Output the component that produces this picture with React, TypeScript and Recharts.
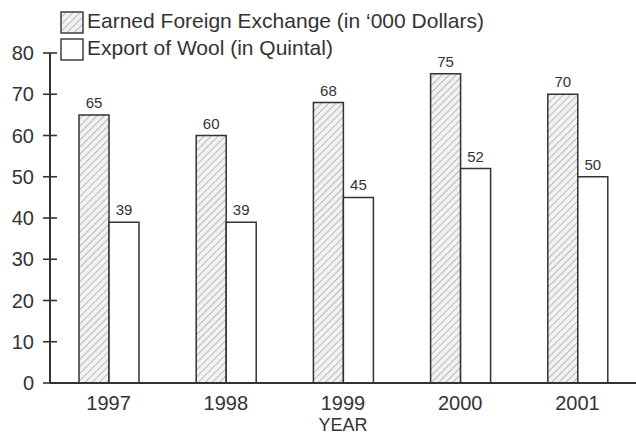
import React from 'react';
import { BarChart, Bar, XAxis, YAxis, LabelList } from 'recharts';

const years = ['1997', '1998', '1999', '2000', '2001'];
const earned = [65, 60, 68, 75, 70];
const wool = [39, 39, 45, 52, 50];
const yTicks = [0, 10, 20, 30, 40, 50, 60, 70, 80];
const seriesNames = ['Earned Foreign Exchange (in \u2018000 Dollars)', 'Export of Wool (in Quintal)'];

const data = years.map((y, i) => ({ year: y, earned: earned[i], wool: wool[i] }));

const INK = '#333333';
const FONT = '"Liberation Sans", Arial, Helvetica, sans-serif';

const HatchDef = ({ id }: { id: string }) => (
  <pattern id={id} patternUnits="userSpaceOnUse" width={5} height={5} patternTransform="rotate(45)">
    <rect x={0} y={0} width={5} height={5} fill="#f2f2f2" />
    <line x1={0} y1={0} x2={0} y2={5} stroke="#a0a0a0" strokeWidth={1.4} />
  </pattern>
);

const YTick = (props: any) => {
  const { x, y, payload } = props;
  return (
    <g>
      <line x1={x - 7} x2={x + 7} y1={y} y2={y} stroke={INK} strokeWidth={1.6} />
      <text x={x - 16} y={y} dy="0.36em" textAnchor="end" fontSize={20} fill={INK} fontFamily={FONT}>
        {payload.value}
      </text>
    </g>
  );
};

const XTick = (props: any) => {
  const { x, y, payload } = props;
  return (
    <text x={x} y={y + 27} textAnchor="middle" fontSize={20} fill={INK} fontFamily={FONT}>
      {payload.value}
    </text>
  );
};

const YearLabel = (props: any) => {
  const vb = props.viewBox || {};
  return (
    <text x={vb.x + vb.width / 2} y={vb.y + 48} textAnchor="middle" fontSize={18} fill={INK} fontFamily={FONT}>
      YEAR
    </text>
  );
};

const Legendish = () => (
  <div style={{ position: 'absolute', left: 0, top: 0, pointerEvents: 'none' }}>
    <svg width={636} height={64}>
      <defs>
        <HatchDef id="hatchLegend" />
      </defs>
      {seriesNames.map((name, i) => (
        <g key={name}>
          <rect
            x={61}
            y={12 + i * 27}
            width={22}
            height={21}
            fill={i === 0 ? 'url(#hatchLegend)' : '#ffffff'}
            stroke={INK}
            strokeWidth={1.4}
          />
          <text x={87} y={28 + i * 27} fontSize={21} fill={INK} fontFamily={FONT}>
            {name}
          </text>
        </g>
      ))}
    </svg>
  </div>
);

export default function App() {
  return (
    <div style={{ position: 'absolute', left: 0, top: 0, width: 636, height: 435, background: '#fff' }}>
      <BarChart
        width={636}
        height={435}
        data={data}
        margin={{ top: 53, right: 0, bottom: 0, left: 0 }}
        barGap={0}
        barSize={30}
      >
        <defs>
          <HatchDef id="hatchBar" />
        </defs>
        <XAxis
          dataKey="year"
          height={52}
          tickLine={false}
          tickSize={0}
          tickMargin={0}
          axisLine={{ stroke: INK, strokeWidth: 2 }}
          tick={<XTick />}
          label={<YearLabel />}
          interval={0}
        />
        <YAxis
          width={50}
          domain={[0, 80]}
          ticks={yTicks}
          tickLine={false}
          tickSize={0}
          tickMargin={0}
          axisLine={{ stroke: INK, strokeWidth: 2 }}
          tick={<YTick />}
          interval={0}
        />
        <Bar dataKey="earned" fill="url(#hatchBar)" stroke={INK} strokeWidth={1.5} isAnimationActive={false}>
          <LabelList dataKey="earned" position="top" offset={7} fontSize={15} fill={INK} fontFamily={FONT} />
        </Bar>
        <Bar dataKey="wool" fill="#ffffff" stroke={INK} strokeWidth={1.5} isAnimationActive={false}>
          <LabelList dataKey="wool" position="top" offset={7} fontSize={15} fill={INK} fontFamily={FONT} />
        </Bar>
      </BarChart>
      <Legendish />
    </div>
  );
}
